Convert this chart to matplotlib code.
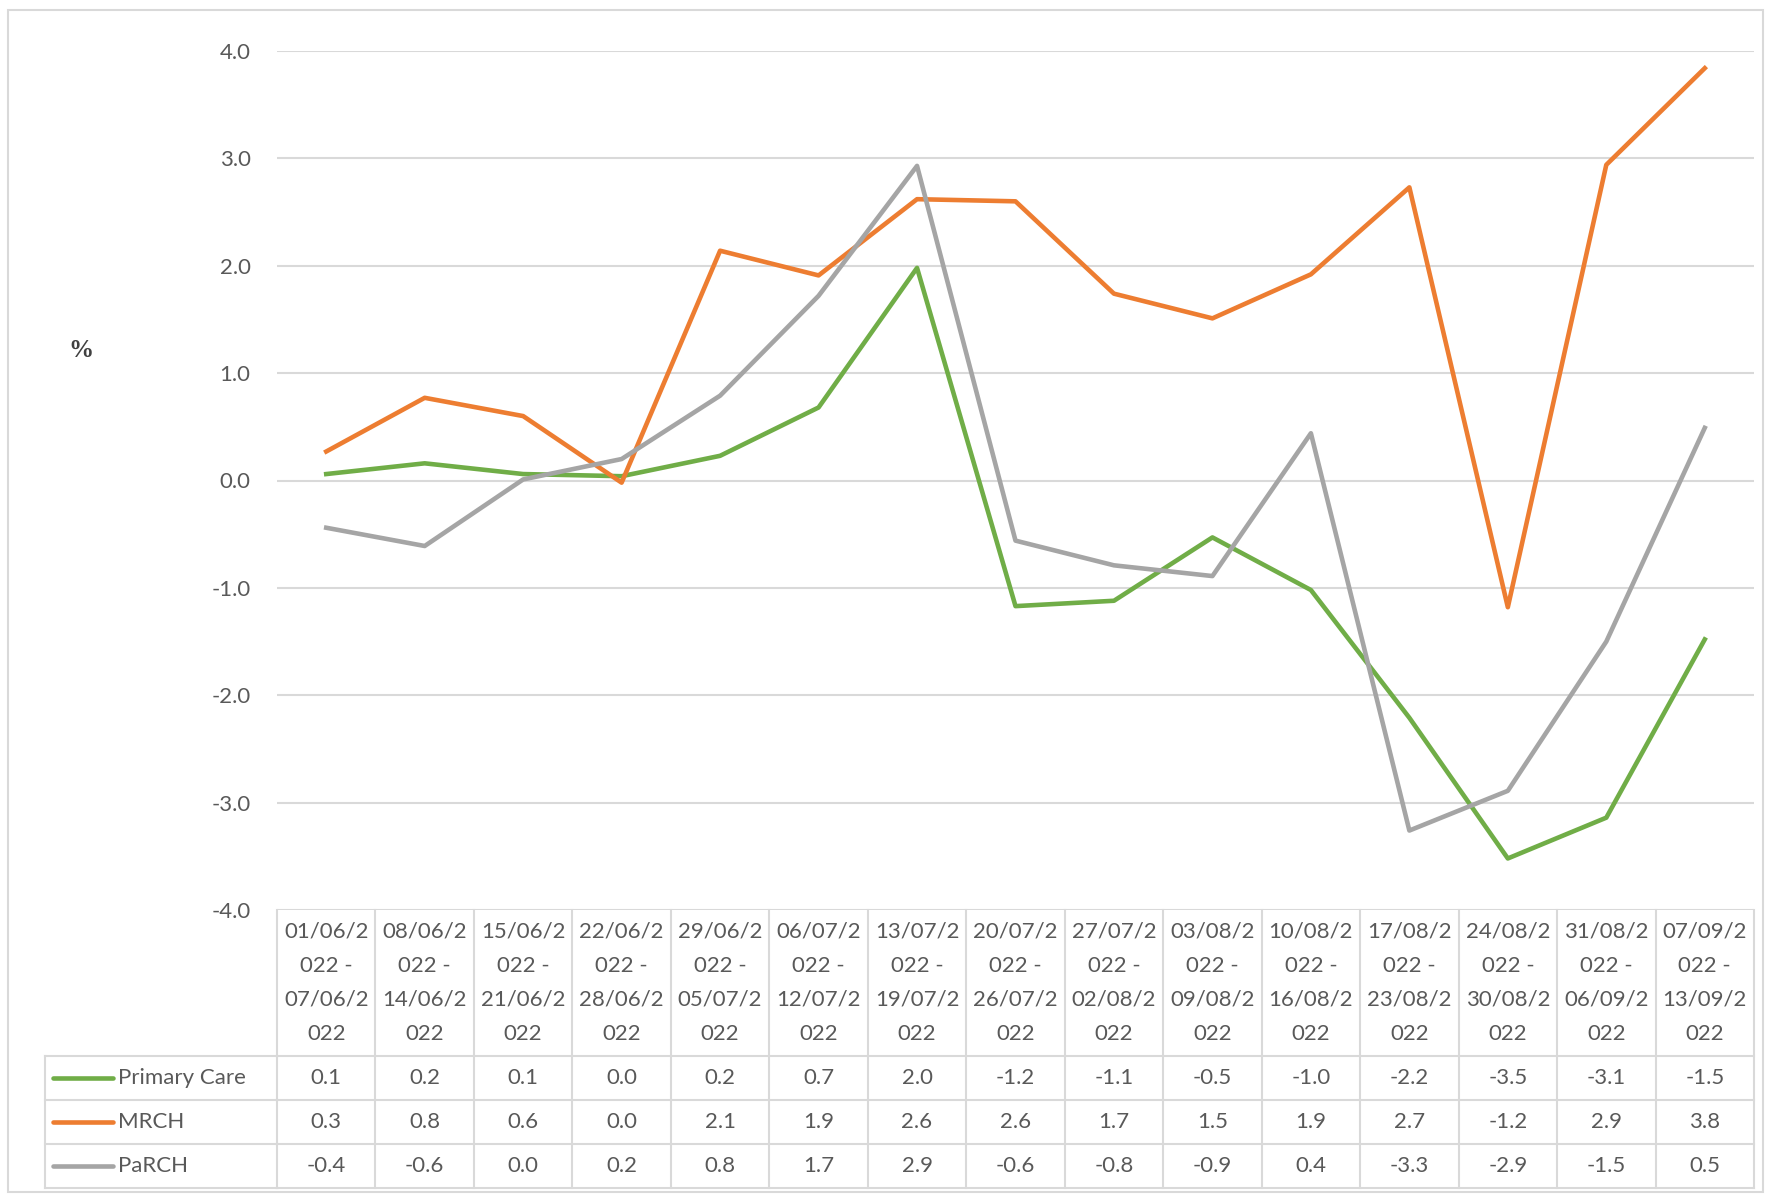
import matplotlib.pyplot as plt
from matplotlib import transforms
from matplotlib.patches import Rectangle

# week ranges (start, end)
week_start = ["01/06/2022", "08/06/2022", "15/06/2022", "22/06/2022", "29/06/2022",
              "06/07/2022", "13/07/2022", "20/07/2022", "27/07/2022", "03/08/2022",
              "10/08/2022", "17/08/2022", "24/08/2022", "31/08/2022", "07/09/2022"]
week_end = ["07/06/2022", "14/06/2022", "21/06/2022", "28/06/2022", "05/07/2022",
            "12/07/2022", "19/07/2022", "26/07/2022", "02/08/2022", "09/08/2022",
            "16/08/2022", "23/08/2022", "30/08/2022", "06/09/2022", "13/09/2022"]

primary_care = [0.06, 0.16, 0.06, 0.04, 0.23, 0.68, 1.98, -1.17, -1.12, -0.53,
                -1.02, -2.21, -3.52, -3.14, -1.48]
mrch = [0.27, 0.77, 0.60, -0.02, 2.14, 1.91, 2.62, 2.60, 1.74, 1.51,
        1.92, 2.73, -1.18, 2.94, 3.84]
parch = [-0.44, -0.61, 0.01, 0.20, 0.79, 1.72, 2.93, -0.56, -0.79, -0.89,
         0.44, -3.26, -2.89, -1.50, 0.49]

series = [("Primary Care", primary_care, "#70AD47"),
          ("MRCH", mrch, "#ED7D31"),
          ("PaRCH", parch, "#A5A5A5")]

W, H = 1771, 1200
TXT = "#595959"
GRID = "#D9D9D9"
FONT = "Lato"

fig = plt.figure(figsize=(W / 100, H / 100), dpi=100)
# pixel transform, origin top-left
pix = transforms.Affine2D().scale(1 / W, -1 / H).translate(0, 1) + fig.transFigure

# plot area (pixels): x 277..1754, y 51..910
ax = fig.add_axes([277 / W, (H - 910) / H, (1754 - 277) / W, (910 - 51) / H])
n = len(week_start)
x = list(range(n))
for name, vals, col in series:
    ax.plot(x, vals, color=col, lw=3.3, zorder=3)

ax.set_xlim(-0.5, n - 0.5)
ax.set_ylim(-4, 4)
ax.set_yticks(range(-4, 5))
ax.set_yticklabels([f"{v:.1f}" for v in range(-4, 5)], fontfamily=FONT,
                   fontsize=16, color=TXT)
ax.tick_params(axis="y", length=0, pad=19)
ax.set_xticks([])
ax.grid(axis="y", color=GRID, lw=1.5)
ax.set_axisbelow(True)
for s in ax.spines.values():
    s.set_visible(False)

fig.text(81 / W, 1 - 350 / H, "%", fontfamily="Liberation Serif", fontweight="bold",
         fontsize=18, color="#404040", ha="center", va="center")

# data table under the axis
tr = transforms.blended_transform_factory(ax.transData, pix)
top, head_bot = 910, 1056
row_edges = [1056, 1100, 1144, 1188]
label_left = 45


def hline(x0, x1, y, t):
    fig.add_artist(plt.Line2D([x0, x1], [y, y], transform=t, color=GRID, lw=1.5))


def vline(xx, y0, y1, t):
    fig.add_artist(plt.Line2D([xx, xx], [y0, y1], transform=t, color=GRID, lw=1.5))


# header cells
for i in range(n + 1):
    vline(i - 0.5, top, row_edges[-1], tr)
for i in range(n):
    s, e = week_start[i], week_end[i]
    lines = [s[:7], s[7:] + " -", e[:7], e[7:]]
    for k, ln in enumerate(lines):
        fig.text(i, 932 + 34 * k, ln, transform=tr, ha="center", va="center",
                 fontfamily=FONT, fontsize=16, color=TXT)

# row lines
for y in row_edges:
    fig.add_artist(plt.Line2D([label_left, 277], [y, y], transform=pix, color=GRID, lw=1.5))
    hline(-0.5, n - 0.5, y, tr)
vline(label_left, row_edges[0], row_edges[-1], pix)

for r, (name, vals, col) in enumerate(series):
    yc = (row_edges[r] + row_edges[r + 1]) / 2
    fig.add_artist(plt.Line2D([53, 113], [yc, yc], transform=pix, color=col, lw=3.3,
                              solid_capstyle="round"))
    fig.text(118, yc, name, transform=pix, ha="left", va="center",
             fontfamily=FONT, fontsize=16, color=TXT)
    for i, v in enumerate(vals):
        lab = f"{v:.1f}"
        if lab == "-0.0":
            lab = "0.0"
        fig.text(i, yc, lab, transform=tr, ha="center", va="center",
                 fontfamily=FONT, fontsize=16, color=TXT)

# outer chart border
fig.add_artist(Rectangle((8 / W, (H - 1192) / H), (1763 - 8) / W, (1192 - 10) / H,
                         transform=fig.transFigure, fill=False, ec=GRID, lw=1.5))

fig.savefig("out.png", dpi=100)
